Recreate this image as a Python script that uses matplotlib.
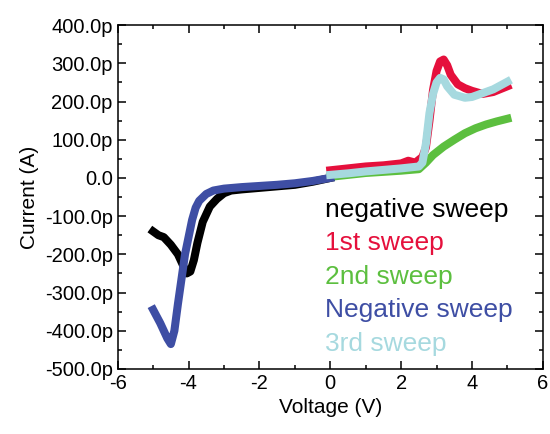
import matplotlib
matplotlib.use("Agg")
import matplotlib.pyplot as plt
from matplotlib.ticker import MultipleLocator, FuncFormatter

plt.rcParams['font.family'] = ['Liberation Sans', 'DejaVu Sans']

# negative sweep (black), current in pA
v_neg1 = [0, -0.5, -1.0, -1.5, -2.0, -2.5, -2.8, -3.0, -3.2, -3.4, -3.6, -3.75,
          -3.85, -3.95, -4.05, -4.15, -4.3, -4.5, -4.7, -4.85, -5.0]
i_neg1 = [0, -10, -18, -22, -26, -30, -33, -40, -55, -75, -115, -170,
          -215, -245, -250, -230, -200, -175, -155, -150, -140]

# 1st sweep (red)
v_s1 = [0, 0.5, 1.0, 1.5, 2.0, 2.2, 2.4, 2.6, 2.7, 2.8, 2.9, 3.0, 3.1,
        3.2, 3.3, 3.4, 3.6, 3.8, 4.0, 4.3, 4.6, 5.0]
i_s1 = [20, 25, 30, 33, 38, 45, 40, 55, 80, 150, 230, 280, 305,
        310, 295, 270, 245, 235, 228, 220, 225, 240]

# 2nd sweep (green)
v_s2 = [0, 0.5, 1.0, 1.5, 2.0, 2.5, 2.7, 2.9, 3.2, 3.5, 3.8, 4.1, 4.4, 4.7, 5.0]
i_s2 = [3, 8, 13, 16, 19, 23, 40, 60, 82, 100, 117, 130, 140, 148, 155]

# Negative sweep (blue)
v_neg2 = [0, -0.5, -1.0, -1.5, -2.0, -2.5, -3.0, -3.3, -3.5, -3.7, -3.8, -3.9,
          -4.0, -4.1, -4.2, -4.3, -4.4, -4.5, -4.6, -4.8, -5.0]
i_neg2 = [0, -8, -14, -18, -21, -24, -28, -33, -42, -60, -78, -110,
          -155, -200, -265, -330, -400, -435, -420, -380, -345]

# 3rd sweep (light blue)
v_s3 = [0, 0.5, 1.0, 1.5, 2.0, 2.5, 2.6, 2.7, 2.8, 2.9, 3.0, 3.1, 3.2,
        3.3, 3.5, 3.8, 4.0, 4.3, 4.6, 5.0]
i_s3 = [8, 12, 17, 21, 25, 30, 40, 90, 170, 220, 250, 262, 258,
        240, 218, 210, 212, 222, 232, 252]

labels = ["negative sweep", "1st sweep", "2nd sweep", "Negative sweep", "3rd sweep"]
colors = ["black", "#e5103c", "#5cbf3f", "#3e4ea4", "#a6d9df"]

fig = plt.figure(figsize=(5.5, 4.34), dpi=100)
ax = fig.add_axes([0.214, 0.150, 0.773, 0.792])

series = [(v_neg1, i_neg1), (v_s1, i_s1), (v_s2, i_s2), (v_neg2, i_neg2), (v_s3, i_s3)]
for (v, i), c, lab in zip(series, colors, labels):
    ax.plot(v, i, color=c, lw=5.8, label=lab, solid_joinstyle='round')

ax.set_xlim(-6, 6)
ax.set_ylim(-500, 400)
ax.xaxis.set_major_locator(MultipleLocator(2))
ax.xaxis.set_minor_locator(MultipleLocator(1))
ax.yaxis.set_major_locator(MultipleLocator(100))
ax.yaxis.set_minor_locator(MultipleLocator(50))
ax.yaxis.set_major_formatter(FuncFormatter(lambda y, p: "0.0" if y == 0 else f"{y:.1f}p"))
ax.xaxis.set_major_formatter(FuncFormatter(lambda x, p: f"{x:.0f}"))

ax.tick_params(which='both', direction='in', top=True, right=True, labelsize=14.5, width=1.1)
ax.tick_params(which='major', length=6)
ax.tick_params(which='minor', length=3)
for s in ax.spines.values():
    s.set_linewidth(1.1)

ax.set_xlabel("Voltage (V)", fontsize=15)
ax.set_ylabel("Current (A)", fontsize=15)

leg = ax.legend(loc='upper left', bbox_to_anchor=(0.462, 0.528), frameon=False,
                fontsize=19, handlelength=0, handletextpad=0, labelspacing=0.36,
                labelcolor='linecolor', borderaxespad=0)
for h in leg.legend_handles:
    h.set_visible(False)

fig.savefig("out.png", dpi=100)
